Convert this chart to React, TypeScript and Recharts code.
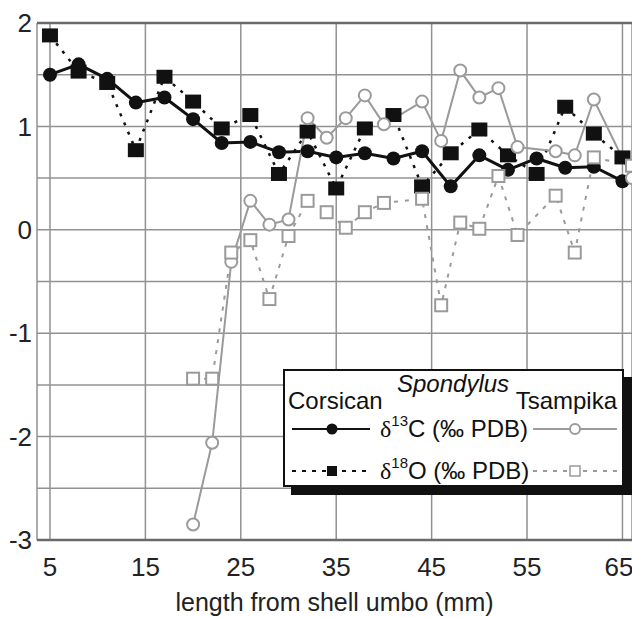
import React from 'react'
import { CartesianGrid, Legend, Line, LineChart, ReferenceLine, XAxis, YAxis } from 'recharts'

// Corsican Spondylus (sampled every ~3 mm)
const corsicanX = [5, 8, 11, 14, 17, 20, 23, 26, 29, 32, 35, 38, 41, 44, 47, 50, 53, 56, 59, 62, 65]
const corsicanC = [1.5, 1.6, 1.46, 1.23, 1.28, 1.07, 0.84, 0.85, 0.75, 0.76, 0.7, 0.74, 0.69, 0.76, 0.42, 0.72, 0.58, 0.69, 0.6, 0.61, 0.47]
const corsicanO = [1.88, 1.53, 1.42, 0.77, 1.48, 1.24, 0.98, 1.11, 0.54, 0.95, 0.4, 0.98, 1.11, 0.42, 0.74, 0.97, 0.72, 0.54, 1.19, 0.93, 0.7]

// Tsampika Spondylus (sampled every ~2 mm)
const tsampikaX = [20, 22, 24, 26, 28, 30, 32, 34, 36, 38, 40, 44, 46, 48, 50, 52, 54, 58, 60, 62, 66]
const tsampikaC = [-2.85, -2.06, -0.31, 0.28, 0.05, 0.1, 1.08, 0.89, 1.08, 1.3, 1.02, 1.24, 0.86, 1.54, 1.28, 1.37, 0.8, 0.76, 0.72, 1.26, 0.5]
const tsampikaO = [-1.44, -1.44, -0.22, -0.1, -0.67, -0.06, 0.28, 0.17, 0.02, 0.17, 0.26, 0.3, -0.73, 0.07, 0.01, 0.52, -0.05, 0.33, -0.22, 0.7, 0.62]

const xTicks = [5, 15, 25, 35, 45, 55, 65]
const yTicks = [-3, -2.5, -2, -1.5, -1, -0.5, 0, 0.5, 1, 1.5, 2]

const corsican = corsicanX.map((x, i) => ({ x, c: corsicanC[i], o: corsicanO[i] }))
const tsampika = tsampikaX.map((x, i) => ({ x, c: tsampikaC[i], o: tsampikaO[i] }))

const FONT = '"Liberation Sans", Arial, sans-serif'
const BLACK = '#111'
const GREY = '#9a9a9a'

const BlackSquare = (props: any) => {
    const { cx, cy, index } = props
    if (cx == null || cy == null) return <g key={`bs-${index}`} />
    return <rect key={`bs-${index}`} x={cx - 8} y={cy - 7} width={16} height={14} fill={BLACK} />
}

const OpenSquare = (props: any) => {
    const { cx, cy, index } = props
    if (cx == null || cy == null) return <g key={`os-${index}`} />
    return <rect key={`os-${index}`} x={cx - 6} y={cy - 6} width={12} height={12} fill="#fff" stroke={GREY} strokeWidth={2} />
}

const LegendBox = () => (
    <svg width={352} height={128} style={{ display: 'block', fontFamily: FONT }}>
        <rect x={8} y={8} width={341} height={118} fill={BLACK} />
        <rect x={1} y={1} width={339} height={116} fill="#fff" stroke={BLACK} strokeWidth={2} />
        <text x={114} y={23} fontStyle="italic" fontSize={24} fill={BLACK}>Spondylus</text>
        <text x={5} y={40} fontSize={24} fill={BLACK}>Corsican</text>
        <text x={334} y={40} textAnchor="end" fontSize={24} fill={BLACK}>Tsampika</text>

        <line x1={9} x2={87} y1={60} y2={60} stroke={BLACK} strokeWidth={2} />
        <circle cx={49} cy={60} r={5.5} fill={BLACK} />
        <text x={97} y={68} fontSize={24} fill={BLACK}>
            <tspan fontFamily='"Liberation Serif", serif'>δ</tspan>
            <tspan fontSize={15} dy={-11}>13</tspan>
            <tspan dy={11}>C (‰ PDB)</tspan>
        </text>
        <line x1={250} x2={334} y1={60} y2={60} stroke={GREY} strokeWidth={2} />
        <circle cx={292} cy={60} r={5} fill="#fff" stroke={GREY} strokeWidth={2} />

        <line x1={9} x2={87} y1={102} y2={102} stroke={BLACK} strokeWidth={2} strokeDasharray="4 6" />
        <rect x={44} y={97} width={10} height={10} fill={BLACK} />
        <text x={97} y={110} fontSize={24} fill={BLACK}>
            <tspan fontFamily='"Liberation Serif", serif'>δ</tspan>
            <tspan fontSize={15} dy={-11}>18</tspan>
            <tspan dy={11}>O (‰ PDB)</tspan>
        </text>
        <line x1={250} x2={334} y1={102} y2={102} stroke={GREY} strokeWidth={2} strokeDasharray="4 6" />
        <rect x={287} y={97} width={10} height={10} fill="#fff" stroke={GREY} strokeWidth={1.5} />
    </svg>
)

const App = () => {
    return (
        <div style={{ position: 'absolute', left: 0, top: 0, width: 632, height: 618, background: '#fff' }}>
            <LineChart width={632} height={618} margin={{ top: 23, right: 0, bottom: 0, left: 0 }}>
                <CartesianGrid stroke="#929292" strokeWidth={1.5} />
                <XAxis
                    dataKey="x"
                    type="number"
                    domain={[3.64, 66]}
                    allowDataOverflow
                    ticks={xTicks}
                    height={78}
                    tickSize={6}
                    tickMargin={12}
                    tickLine={false}
                    axisLine={{ stroke: '#6a6a6a', strokeWidth: 2.5 }}
                    tick={{ fontSize: 26, fill: '#222', fontFamily: FONT }}
                    label={{ value: 'length from shell umbo (mm)', position: 'insideBottom', offset: 7, fontSize: 25, fill: '#222', fontFamily: FONT }}
                />
                <YAxis
                    type="number"
                    domain={[-3, 2]}
                    allowDataOverflow
                    ticks={yTicks}
                    width={37}
                    tickSize={0}
                    tickMargin={5}
                    tickLine={false}
                    axisLine={false}
                    tickFormatter={(v: number) => (Number.isInteger(v) ? String(v) : '')}
                    tick={{ fontSize: 26, fill: '#222', fontFamily: FONT }}
                />
                <ReferenceLine y={2} stroke="#6a6a6a" strokeWidth={2.5} />

                {/* Corsican: filled black markers */}
                <Line
                    data={corsican}
                    dataKey="o"
                    stroke={BLACK}
                    strokeWidth={2.5}
                    strokeDasharray="3 7"
                    dot={(p: any) => <BlackSquare {...p} />}
                    isAnimationActive={false}
                />
                <Line
                    data={corsican}
                    dataKey="c"
                    stroke={BLACK}
                    strokeWidth={3}
                    dot={{ r: 7, fill: BLACK, stroke: BLACK, strokeWidth: 0 }}
                    isAnimationActive={false}
                />

                {/* Tsampika: open grey markers */}
                <Line
                    data={tsampika}
                    dataKey="c"
                    stroke={GREY}
                    strokeWidth={2}
                    dot={{ r: 6, fill: '#fff', stroke: GREY, strokeWidth: 2 }}
                    isAnimationActive={false}
                />
                <Line
                    data={tsampika}
                    dataKey="o"
                    stroke={GREY}
                    strokeWidth={2}
                    strokeDasharray="4 7"
                    dot={(p: any) => <OpenSquare {...p} />}
                    isAnimationActive={false}
                />

                <Legend
                    layout="vertical"
                    align="center"
                    verticalAlign="middle"
                    content={() => <LegendBox />}
                    wrapperStyle={{ left: 283, top: 369, width: 352, height: 128 }}
                />
            </LineChart>
        </div>
    )
}

export default App
